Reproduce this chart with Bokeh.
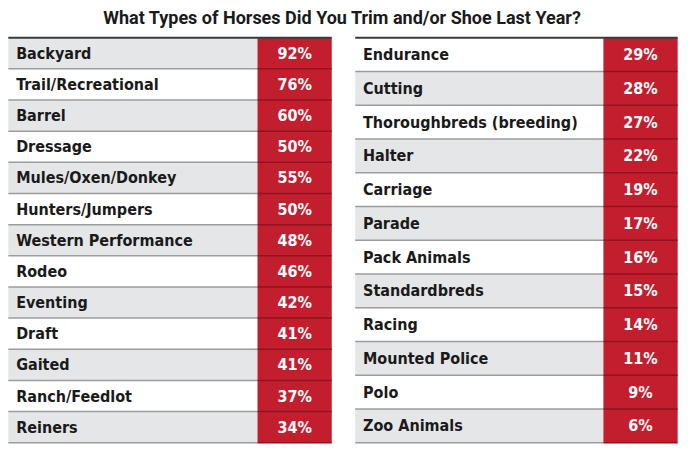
from bokeh.plotting import figure
from bokeh.models import Range1d, ColumnDataSource
from bokeh.core.properties import value
from bokeh.embed import file_html
from bokeh.resources import INLINE

title = "What Types of Horses Did You Trim and/or Shoe Last Year?"
left_cats = ["Backyard", "Trail/Recreational", "Barrel", "Dressage", "Mules/Oxen/Donkey",
             "Hunters/Jumpers", "Western Performance", "Rodeo", "Eventing", "Draft",
             "Gaited", "Ranch/Feedlot", "Reiners"]
left_vals = [92, 76, 60, 50, 55, 50, 48, 46, 42, 41, 41, 37, 34]
right_cats = ["Endurance", "Cutting", "Thoroughbreds (breeding)", "Halter", "Carriage",
              "Parade", "Pack Animals", "Standardbreds", "Racing", "Mounted Police",
              "Polo", "Zoo Animals"]
right_vals = [29, 28, 27, 22, 19, 17, 16, 15, 14, 11, 9, 6]

FONT = "DejaVu Sans Condensed"
RED = "#c21e2e"
GRAY = "#e5e6e7"

p = figure(width=684, height=449, output_backend="svg", toolbar_location=None,
           x_range=Range1d(0, 700), y_range=Range1d(465, 0), min_border=0)
p.axis.visible = False
p.grid.visible = False
p.outline_line_color = None
p.background_fill_color = "white"
p.border_fill_color = "white"

top, bottom = 38.5, 458.0


def table(cats, vals, x0, xr, x1, first_gray):
    n = len(cats)
    h = (bottom - top) / n
    tops = [top + i * h for i in range(n)]
    bots = [t + h for t in tops]
    fills = [GRAY if ((i % 2 == 0) == first_gray) else "white" for i in range(n)]
    src = ColumnDataSource(dict(top=tops, bottom=bots, fill=fills,
                                cat=cats, val=[f"{v}%" for v in vals],
                                mid=[t + h / 2 for t in tops]))
    p.quad(left=x0, right=xr, top="top", bottom="bottom", fill_color="fill",
           line_color=None, source=src)
    p.quad(left=xr, right=x1, top="top", bottom="bottom", fill_color=RED,
           line_color=None, source=src)
    p.segment(x0=x0, x1=xr, y0="bottom", y1="bottom", line_color="#9c9c9c",
              line_width=1.5, source=src)
    p.segment(x0=xr, x1=x1, y0="bottom", y1="bottom", line_color="#8e1520",
              line_width=1.5, source=src)
    p.segment(x0=[x0], x1=[x1], y0=[top], y1=[top], line_color="#3a3a3a", line_width=2)
    p.text(x=x0 + 8, y="mid", text="cat", source=src, text_font=value(FONT),
           text_font_style="bold", text_font_size="16px", text_color="#1a1a1a",
           text_baseline="middle", text_align="left")
    p.text(x=(xr + x1) / 2, y="mid", text="val", source=src, text_font=value(FONT),
           text_font_style="bold", text_font_size="16px", text_color="white",
           text_baseline="middle", text_align="center")


table(left_cats, left_vals, 8, 263, 339, True)
table(right_cats, right_vals, 363, 617, 693, False)

p.text(x=[350], y=[18], text=[title], text_font=value("Roboto"), text_font_style="bold",
       text_font_size="18px", text_color="#1a1a1a", text_align="center",
       text_baseline="middle")

open("out.html", "w").write(file_html(p, INLINE))
